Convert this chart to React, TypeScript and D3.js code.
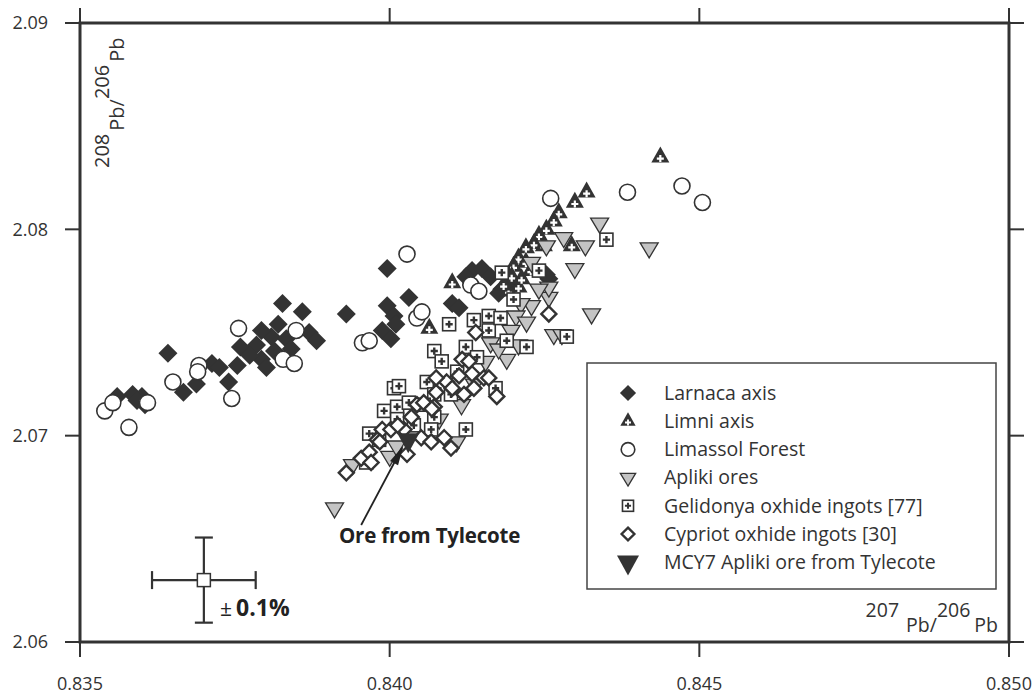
import React from 'react';
import * as d3 from 'd3';

// 207Pb/206Pb (x) vs 208Pb/206Pb (y)
const larnacaAxis = [
  [0.83560, 2.0719], [0.83585, 2.0720], [0.83600, 2.0719], [0.83605, 2.0715], [0.83592, 2.0717],
  [0.83642, 2.0740], [0.83667, 2.0721], [0.83688, 2.0725], [0.83713, 2.0735], [0.83725, 2.0733],
  [0.83740, 2.0726], [0.83754, 2.0734], [0.83759, 2.0743], [0.83785, 2.0744], [0.83793, 2.0737],
  [0.83801, 2.0733], [0.83809, 2.0748], [0.83820, 2.0754], [0.83827, 2.0764], [0.83833, 2.0747],
  [0.83841, 2.0742], [0.83859, 2.0760], [0.83870, 2.0750], [0.83882, 2.0746], [0.83930, 2.0759],
  [0.83793, 2.0751], [0.83814, 2.0741], [0.83774, 2.0739], [0.83996, 2.0781], [0.83996, 2.0763],
  [0.84007, 2.0758], [0.84031, 2.0767], [0.83988, 2.0751], [0.84002, 2.0747], [0.84010, 2.0754],
  [0.84101, 2.0764], [0.84133, 2.0780], [0.84149, 2.0781], [0.84163, 2.0777], [0.84123, 2.0777],
  [0.84181, 2.0771], [0.84192, 2.0774], [0.84257, 2.0776], [0.84112, 2.0762], [0.84176, 2.0769],
  [0.84253, 2.0778],
];

const limniAxis = [
  [0.84437, 2.0835], [0.84318, 2.0818], [0.84299, 2.0813], [0.84273, 2.0808], [0.84265, 2.0804],
  [0.84294, 2.0792], [0.84253, 2.0800], [0.84241, 2.0797], [0.84233, 2.0793], [0.84220, 2.0791],
  [0.84208, 2.0786], [0.84200, 2.0782], [0.84208, 2.0772], [0.84192, 2.0770], [0.84197, 2.0777],
  [0.84213, 2.0776], [0.84220, 2.0784], [0.84101, 2.0774], [0.84064, 2.0752], [0.84249, 2.0792],
  [0.84184, 2.0773], [0.84228, 2.0780],
];

const limassolForest = [
  [0.83540, 2.0712], [0.83553, 2.0716], [0.83579, 2.0704], [0.83609, 2.0716], [0.83650, 2.0726],
  [0.83692, 2.0734], [0.83690, 2.0731], [0.83756, 2.0752], [0.83745, 2.0718], [0.83828, 2.0737],
  [0.83846, 2.0735], [0.83849, 2.0751], [0.83956, 2.0745], [0.83967, 2.0746], [0.84028, 2.0788],
  [0.84044, 2.0757], [0.84052, 2.0760], [0.84131, 2.0773], [0.84144, 2.0770], [0.84260, 2.0815],
  [0.84384, 2.0818], [0.84472, 2.0821], [0.84505, 2.0813],
];

const aplikiOres = [
  [0.84339, 2.0803], [0.84281, 2.0796], [0.84316, 2.0792], [0.84299, 2.0781], [0.84419, 2.0791],
  [0.84326, 2.0759], [0.84257, 2.0767], [0.84229, 2.0763], [0.84212, 2.0764], [0.84204, 2.0758],
  [0.84221, 2.0755], [0.84265, 2.0749], [0.84253, 2.0792], [0.84229, 2.0784], [0.84163, 2.0745],
  [0.84189, 2.0737], [0.84155, 2.0736], [0.84278, 2.0749], [0.84257, 2.0772], [0.84000, 2.0690],
  [0.83940, 2.0686], [0.83911, 2.0665], [0.84011, 2.0695], [0.84108, 2.0697], [0.84137, 2.0725],
  [0.84116, 2.0715], [0.84080, 2.0708], [0.84241, 2.0771], [0.84196, 2.0751], [0.84176, 2.0742],
  [0.84208, 2.0744],
];

const gelidonyaIngots = [
  [0.84350, 2.0795], [0.84181, 2.0779], [0.84241, 2.0780], [0.84096, 2.0754], [0.84136, 2.0756],
  [0.84160, 2.0758], [0.84160, 2.0751], [0.84179, 2.0757], [0.84189, 2.0746], [0.84221, 2.0743],
  [0.84286, 2.0748], [0.84072, 2.0741], [0.84084, 2.0736], [0.84123, 2.0743], [0.84007, 2.0723],
  [0.84015, 2.0724], [0.83991, 2.0712], [0.84012, 2.0714], [0.84012, 2.0708], [0.83967, 2.0701],
  [0.84072, 2.0709], [0.84067, 2.0703], [0.84123, 2.0703], [0.83962, 2.0687], [0.84060, 2.0726],
  [0.84099, 2.0720], [0.84072, 2.0720], [0.84055, 2.0715], [0.84031, 2.0716], [0.84171, 2.0723],
  [0.83983, 2.0698], [0.84039, 2.0705], [0.84109, 2.0731], [0.84141, 2.0738], [0.84200, 2.0766],
];

const cypriotIngots = [
  [0.83930, 2.0682], [0.83954, 2.0689], [0.83967, 2.0692], [0.83980, 2.0698], [0.83988, 2.0703],
  [0.84002, 2.0703], [0.84035, 2.0709], [0.84044, 2.0715], [0.84055, 2.0716], [0.84072, 2.0714],
  [0.84075, 2.0721], [0.84092, 2.0726], [0.84120, 2.0720], [0.84136, 2.0723], [0.84152, 2.0728],
  [0.84051, 2.0699], [0.84067, 2.0697], [0.84088, 2.0699], [0.84099, 2.0694], [0.84028, 2.0691],
  [0.83970, 2.0687], [0.84023, 2.0703], [0.84257, 2.0759], [0.84173, 2.0719], [0.84160, 2.0728],
  [0.84133, 2.0730], [0.84117, 2.0737], [0.84128, 2.0736], [0.84139, 2.0750], [0.84075, 2.0728],
  [0.84068, 2.0713], [0.84101, 2.0723], [0.84112, 2.0729], [0.83984, 2.0697], [0.84013, 2.0705],
];

const mcy7 = [[0.8403, 2.0698]];

const xTicks = [0.835, 0.840, 0.845, 0.850];
const xTickLabels = ['0.835', '0.840', '0.845', '0.850'];
const yTicks = [2.06, 2.07, 2.08, 2.09];
const yTickLabels = ['2.06', '2.07', '2.08', '2.09'];

const legendNames = [
  'Larnaca axis',
  'Limni axis',
  'Limassol Forest',
  'Apliki ores',
  'Gelidonya oxhide ingots [77]',
  'Cypriot oxhide ingots [30]',
  'MCY7 Apliki ore from Tylecote',
];
const legendTypes = ['larnaca', 'limni', 'limassol', 'apliki', 'gelidonya', 'cypriot', 'mcy7'];

// error bar reference point and relative error
const errCenter = [0.837, 2.063];
const errRel = 0.001;

// arrow: from label to the MCY7 sample
const arrowFrom = [0.83954, 2.06567];
const arrowTo = [0.84020, 2.0694];

const DARK = '#333';
const GREY = '#c4c4c4';
const FONT = '"Open Sans", "Noto Sans", sans-serif';

const diamond = (s: number) => `M0,${-s}L${s},0L0,${s}L${-s},0Z`;
const triUp = (w: number, h: number) => `M0,${(-h * 2) / 3}L${w / 2},${h / 3}L${-w / 2},${h / 3}Z`;
const triDown = (w: number, h: number) => `M0,${(h * 2) / 3}L${w / 2},${-h / 3}L${-w / 2},${-h / 3}Z`;

function Marker({ type, cx, cy, k = 1 }: { type: string; cx: number; cy: number; k?: number }) {
  const t = `translate(${cx},${cy})`;
  if (type === 'larnaca') return <path transform={t} d={diamond(9.5 * k)} fill={DARK} />;
  if (type === 'limni')
    return (
      <g transform={t}>
        <path d={triUp(18 * k, 16 * k)} fill={DARK} />
        <path d={`M${-3.5 * k},${1.5 * k}H${3.5 * k}M0,${-2 * k}V${5 * k}`} stroke="#fff" strokeWidth={2.2 * k} />
      </g>
    );
  if (type === 'limassol')
    return <circle cx={cx} cy={cy} r={8 * k} fill="#fff" stroke={DARK} strokeWidth={1.6} />;
  if (type === 'apliki')
    return <path transform={t} d={triDown(18 * k, 15 * k)} fill={GREY} stroke={DARK} strokeWidth={1.3} />;
  if (type === 'gelidonya')
    return (
      <g transform={t}>
        <rect x={-6.5 * k} y={-6.5 * k} width={13 * k} height={13 * k} fill="#fff" stroke={DARK} strokeWidth={1.6} />
        <path d={`M${-3.6 * k},0H${3.6 * k}M0,${-3.6 * k}V${3.6 * k}`} stroke={DARK} strokeWidth={2.4 * k} />
      </g>
    );
  if (type === 'cypriot')
    return <path transform={t} d={diamond(7.5 * k)} fill="#fff" stroke={DARK} strokeWidth={2.4} />;
  if (type === 'mcy7') return <path transform={t} d={triDown(22 * k, 20 * k)} fill={DARK} />;
  return null;
}

export default function App() {
  const width = 1034;
  const height = 694;
  const x = d3.scaleLinear().domain([0.835, 0.85]).range([80, 1009]);
  const y = d3.scaleLinear().domain([2.06, 2.09]).range([642, 23]);
  const tick = 15;

  const series: [string, number[][]][] = [
    ['larnaca', larnacaAxis],
    ['limni', limniAxis],
    ['apliki', aplikiOres],
    ['limassol', limassolForest],
    ['gelidonya', gelidonyaIngots],
    ['cypriot', cypriotIngots],
    ['mcy7', mcy7],
  ];

  const ex = x(errCenter[0]);
  const ey = y(errCenter[1]);
  const ex0 = x(errCenter[0] * (1 - errRel));
  const ex1 = x(errCenter[0] * (1 + errRel));
  const ey0 = y(errCenter[1] * (1 - errRel));
  const ey1 = y(errCenter[1] * (1 + errRel));

  const ax0 = x(arrowFrom[0]);
  const ay0 = y(arrowFrom[1]);
  const ax1 = x(arrowTo[0]);
  const ay1 = y(arrowTo[1]);
  const ang = (Math.atan2(ay1 - ay0, ax1 - ax0) * 180) / Math.PI;

  const legend = { x: 587, y: 363, w: 409, h: 226, row: 28.2 };

  return (
    <svg
      width={width}
      height={height}
      style={{ position: 'absolute', left: 0, top: 0, background: '#fff' }}
      fontFamily={FONT}
    >
      {/* data */}
      {series.map(([type, pts]) => (
        <g key={type}>
          {pts.map((d, i) => (
            <Marker key={i} type={type} cx={x(d[0])} cy={y(d[1])} />
          ))}
        </g>
      ))}

      {/* arrow */}
      <line x1={ax0} y1={ay0} x2={ax1} y2={ay1} stroke="#222" strokeWidth={1.8} />
      <path transform={`translate(${ax1},${ay1}) rotate(${ang})`} d="M3,0L-17,-4.5L-17,4.5Z" fill="#222" />
      <text x={339} y={543} fontSize={20.5} fontWeight="bold" fill="#222" letterSpacing={-0.2}>
        Ore from Tylecote
      </text>

      {/* error bar */}
      <g stroke={DARK} strokeWidth={2.2} fill="none">
        <line x1={ex0} x2={ex1} y1={ey} y2={ey} />
        <line x1={ex} x2={ex} y1={ey0} y2={ey1} />
        <line x1={ex0} x2={ex0} y1={ey - 9} y2={ey + 9} />
        <line x1={ex1} x2={ex1} y1={ey - 9} y2={ey + 9} />
        <line x1={ex - 9} x2={ex + 9} y1={ey0} y2={ey0} />
        <line x1={ex - 9} x2={ex + 9} y1={ey1} y2={ey1} />
      </g>
      <rect x={ex - 6.5} y={ey - 6.5} width={13} height={13} fill="#fff" stroke={DARK} strokeWidth={1.5} />
      <text x={220} y={616} fontSize={23} fontWeight="bold" fill="#222">
        <tspan fontSize={21} fontWeight="normal">±</tspan>
        <tspan dx={4}>0.1%</tspan>
      </text>

      {/* legend */}
      <rect x={legend.x} y={legend.y} width={legend.w} height={legend.h} fill="#fff" stroke="#444" strokeWidth={1.5} />
      {legendNames.map((name, i) => {
        const cy = legend.y + 30 + i * legend.row;
        return (
          <g key={name}>
            <Marker type={legendTypes[i]} cx={628} cy={cy} k={legendTypes[i] === 'mcy7' ? 1 : 0.85} />
            <text x={664} y={cy} dy="0.35em" fontSize={19.5} fill={DARK}>
              {name}
            </text>
          </g>
        );
      })}

      {/* frame */}
      <rect x={80} y={23} width={929} height={619} fill="none" stroke={DARK} strokeWidth={3} />

      {/* ticks */}
      <g stroke={DARK} strokeWidth={2}>
        {xTicks.map((v) => (
          <g key={v}>
            <line x1={x(v)} x2={x(v)} y1={642} y2={642 + tick} />
            <line x1={x(v)} x2={x(v)} y1={23} y2={23 - tick} />
          </g>
        ))}
        {yTicks.map((v) => (
          <g key={v}>
            <line x1={80 - tick} x2={80} y1={y(v)} y2={y(v)} />
            <line x1={1009} x2={1009 + tick} y1={y(v)} y2={y(v)} />
          </g>
        ))}
      </g>
      {xTicks.map((v, i) => (
        <text key={v} x={x(v)} y={690} textAnchor="middle" fontSize={18} fill={DARK}>
          {xTickLabels[i]}
        </text>
      ))}
      {yTicks.map((v, i) => (
        <text key={v} x={48} y={y(v)} dy="0.35em" textAnchor="end" fontSize={18} fill={DARK}>
          {yTickLabels[i]}
        </text>
      ))}

      {/* axis titles */}
      <text transform="translate(124,168) rotate(-90)" fontSize={20} fill={DARK}>
        <tspan dy={-15}>208</tspan>
        <tspan dy={15} dx={3}>Pb/</tspan>
        <tspan dy={-15}>206</tspan>
        <tspan dy={15} dx={3}>Pb</tspan>
      </text>
      <text x={998} y={632} textAnchor="end" fontSize={19.5} fill={DARK}>
        <tspan dy={-15}>207</tspan>
        <tspan dy={15} dx={7}>Pb/</tspan>
        <tspan dy={-15}>206</tspan>
        <tspan dy={15} dx={4}>Pb</tspan>
      </text>
    </svg>
  );
}
